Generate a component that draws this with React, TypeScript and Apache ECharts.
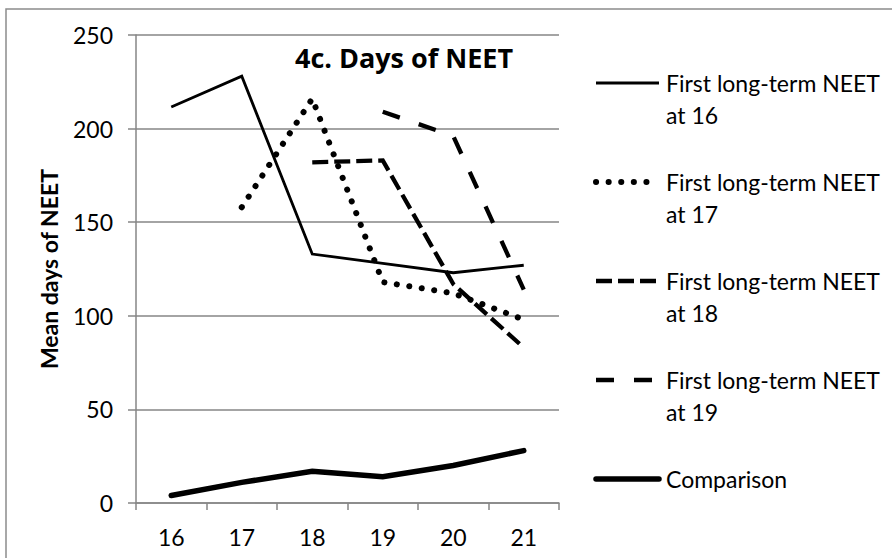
import React, { useEffect, useRef } from "react";
import * as echarts from "echarts";

// Age (years) along the x axis
const ages = ["16", "17", "18", "19", "20", "21"];

// Mean days of NEET by age, per cohort of first long-term NEET spell
const neetAt16 = [211.5, 228, 133, 128, 123, 127];
const neetAt17 = [null, 158, 216, 118, 112, 98];
const neetAt18 = [null, null, 182, 183, 117, 83];
const neetAt19 = [null, null, null, 209, 196, 114];
const comparison = [4, 11, 17, 14, 20, 28];

const seriesNames = [
  "First long-term NEET at 16",
  "First long-term NEET at 17",
  "First long-term NEET at 18",
  "First long-term NEET at 19",
  "Comparison",
];

const FONT = "Lato";

// Stroke styles shared by each series and its legend key
const strokes = [
  { width: 2.8, dash: null as number[] | null, cap: "butt" },
  { width: 6, dash: [0.1, 12.5], cap: "round" },
  { width: 4.3, dash: [16, 6], cap: "butt" },
  { width: 4.3, dash: [18, 20], cap: "butt" },
  { width: 5.5, dash: null as number[] | null, cap: "round" },
];

export default function App() {
  const ref = useRef<HTMLDivElement>(null);

  useEffect(() => {
    if (!ref.current) return;
    const chart = echarts.init(ref.current, undefined, { renderer: "svg" });

    const allData = [neetAt16, neetAt17, neetAt18, neetAt19, comparison];

    const series = seriesNames.map((name, i) => ({
      name,
      type: "line",
      data: allData[i],
      symbol: "none",
      connectNulls: false,
      lineStyle: {
        color: "#000",
        width: strokes[i].width,
        type: strokes[i].dash ?? "solid",
        cap: strokes[i].cap,
        join: "miter",
      },
      itemStyle: { color: "#000" },
    }));

    // Legend keys: a stroked sample line and a wrapped label, one block per series
    const legendX = 596;
    const legendW = 63;
    const legendTop = 83;
    const legendStep = 99;
    const legendGraphics: any[] = [];
    seriesNames.forEach((name, i) => {
      const y = legendTop + legendStep * i;
      const s = strokes[i];
      legendGraphics.push({
        type: "line",
        silent: true,
        shape: { x1: legendX, y1: y, x2: legendX + legendW, y2: y },
        style: {
          stroke: "#000",
          lineWidth: s.width,
          lineDash: s.dash ?? undefined,
          lineCap: s.cap,
        },
      });
      const lines = name === "Comparison" ? [name] : name.replace(" at ", "\nat ").split("\n");
      lines.forEach((t, k) => {
        legendGraphics.push({
          type: "text",
          silent: true,
          x: legendX + legendW + 7,
          y: y + k * 32,
          style: {
            text: t,
            fontFamily: FONT,
            fontSize: 23,
            fill: "#000",
            verticalAlign: "middle",
            align: "left",
          },
        });
      });
    });

    chart.setOption({
      animation: false,
      backgroundColor: "#fff",
      title: {
        text: "4c. Days of NEET",
        left: 399,
        top: 39,
        textAlign: "center",
        textStyle: { fontFamily: "Open Sans", fontWeight: "bold", fontSize: 27, color: "#000" },
      },
      grid: { left: 136, top: 35, right: 333, bottom: 55, containLabel: false },
      xAxis: {
        type: "category",
        data: ages,
        boundaryGap: true,
        axisLine: { lineStyle: { color: "#868686", width: 1.5 } },
        axisTick: { show: true, length: 7, lineStyle: { color: "#868686", width: 1.5 } },
        axisLabel: { fontFamily: FONT, fontSize: 23, color: "#000", margin: 22 },
      },
      yAxis: {
        type: "value",
        min: 0,
        max: 250,
        interval: 50,
        name: "Mean days of NEET",
        nameLocation: "middle",
        nameRotate: 90,
        nameGap: 76,
        nameTextStyle: { fontFamily: FONT, fontWeight: "bold", fontSize: 23, color: "#000" },
        axisLine: { show: true, lineStyle: { color: "#868686", width: 1.5 } },
        axisTick: { show: true, inside: false, length: 8, lineStyle: { color: "#868686", width: 1.5 } },
        axisLabel: { fontFamily: FONT, fontSize: 23, color: "#000", margin: 23 },
        splitLine: { lineStyle: { color: "#868686", width: 1.5 } },
      },
      graphic: [
        {
          type: "rect",
          silent: true,
          shape: { x: 6, y: 9, width: 1000, height: 1000 },
          style: { fill: "none", stroke: "#8c8c8c", lineWidth: 1.5 },
        },
        ...legendGraphics,
      ],
      series,
    });

    return () => chart.dispose();
  }, []);

  return <div ref={ref} style={{ width: 892, height: 558, position: "absolute", left: 0, top: 0 }} />;
}
